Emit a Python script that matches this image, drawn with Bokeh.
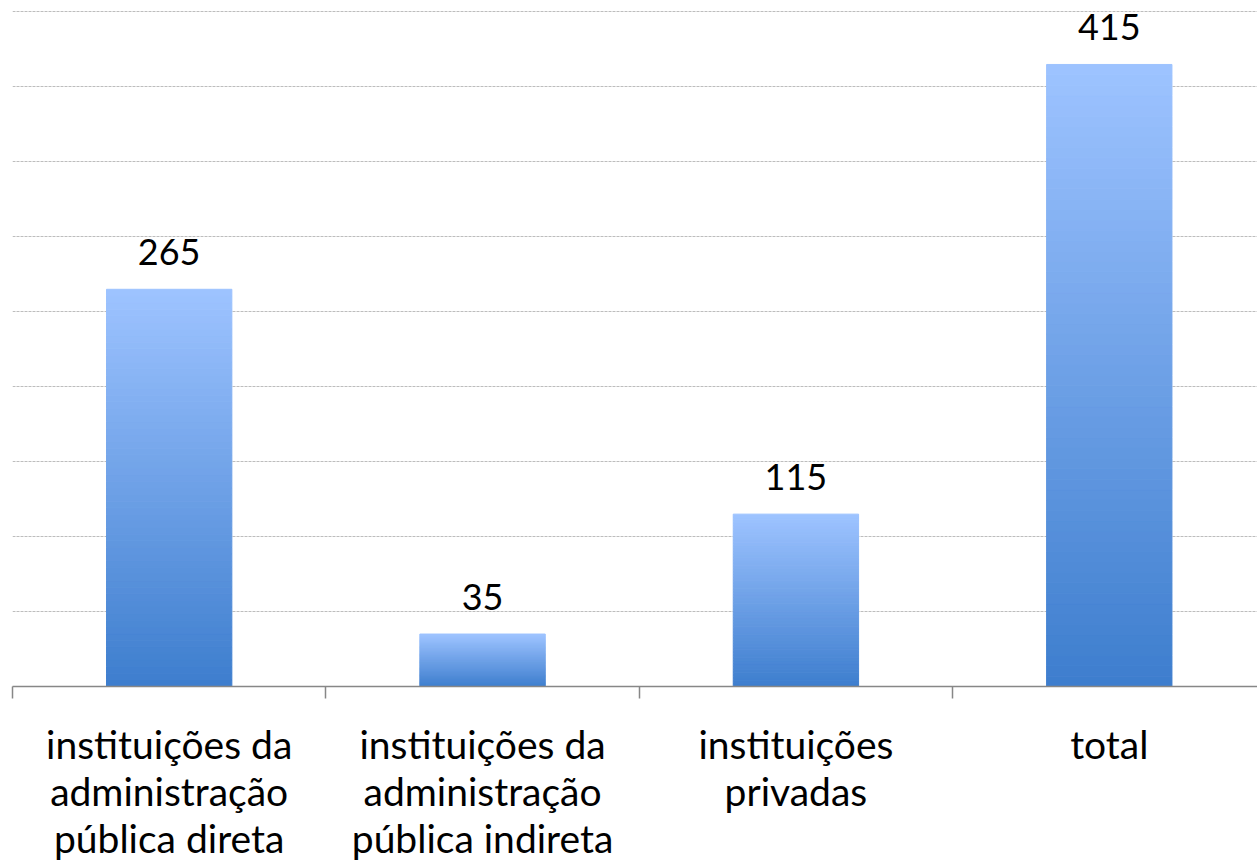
from bokeh.plotting import figure
from bokeh.models import Range1d, FixedTicker, LinearAxis, Grid, ColumnDataSource
from bokeh.core.properties import value
from bokeh.embed import file_html
from bokeh.resources import INLINE

categories = ["instituições da\nadministração\npública direta",
              "instituições da\nadministração\npública indireta",
              "instituições\nprivadas",
              "total"]
values = [265, 35, 115, 415]
grid_ticks = [50, 100, 150, 200, 250, 300, 350, 400, 450]

FONT = "Lato"
TOP = (157, 195, 255)
BOTTOM = (62, 126, 206)
N = 60

def hexcol(c):
    return "#%02x%02x%02x" % tuple(int(round(v)) for v in c)

p = figure(width=1257, height=866, output_backend="svg", toolbar_location=None,
           x_range=Range1d(0, 3.973), y_range=Range1d(0, 451),
           x_axis_location=None, y_axis_location=None,
           min_border_left=12, min_border_right=0, min_border_top=10, min_border_bottom=180)
p.outline_line_color = None
p.background_fill_color = "white"
p.border_fill_color = "white"
p.center = [r for r in p.center if not isinstance(r, Grid)]

grid = Grid(dimension=1, ticker=FixedTicker(ticks=grid_ticks),
            grid_line_color="#bdbdbd", grid_line_dash="3 1", grid_line_width=1)
p.add_layout(grid)

# gradient bars built from slices of each value
xs, bots, tops, cols = [], [], [], []
for i, v in enumerate(values):
    for k in range(N):
        t = k / (N - 1)
        c = tuple(BOTTOM[j] + (TOP[j] - BOTTOM[j]) * t for j in range(3))
        xs.append(i + 0.5)
        bots.append(v * k / N)
        tops.append(v * (k + 1) / N)
        cols.append(hexcol(c))
src = ColumnDataSource(dict(x=xs, bottom=bots, top=tops, color=cols))
p.vbar(x="x", bottom="bottom", top="top", width=0.4, source=src,
       fill_color="color", line_color="color", line_width=1)

lab = ColumnDataSource(dict(x=[i + 0.5 for i in range(len(values))], y=values,
                            t=[str(v) for v in values]))
p.text(x="x", y="y", text="t", source=lab, text_align="center",
       text_baseline="alphabetic", y_offset=-37, text_font=value(FONT),
       text_font_size="36px", text_color="#000000")

# axis with category boundary ticks
ax1 = LinearAxis(ticker=FixedTicker(ticks=[0, 1, 2, 3, 4]))
ax1.axis_line_color = "#878787"
ax1.axis_line_width = 1.5
ax1.major_tick_line_color = "#878787"
ax1.major_tick_line_width = 1.5
ax1.major_tick_out = 12
ax1.major_tick_in = 0
ax1.minor_tick_line_color = None
ax1.major_label_text_font_size = "1px"
ax1.major_label_text_alpha = 0
ax1.major_label_standoff = 0
p.add_layout(ax1, "below")

# category labels: one axis per text line
centers = [i + 0.5 for i in range(len(categories))]
split = [c.split("\n") for c in categories]
nlines = max(len(s) for s in split)
standoffs = [22, -2, -2]
for j in range(nlines):
    ax = LinearAxis(ticker=FixedTicker(ticks=centers))
    ax.major_label_overrides = {centers[i]: (s[j] if j < len(s) else " ")
                                for i, s in enumerate(split)}
    ax.axis_line_color = None
    ax.major_tick_line_color = None
    ax.minor_tick_line_color = None
    ax.major_tick_out = 0
    ax.major_tick_in = 0
    ax.major_label_text_font = FONT
    ax.major_label_text_font_size = "39px"
    ax.major_label_text_color = "#000000"
    ax.major_label_standoff = standoffs[j]
    p.add_layout(ax, "below")

open("out.html", "w").write(file_html(p, INLINE))
